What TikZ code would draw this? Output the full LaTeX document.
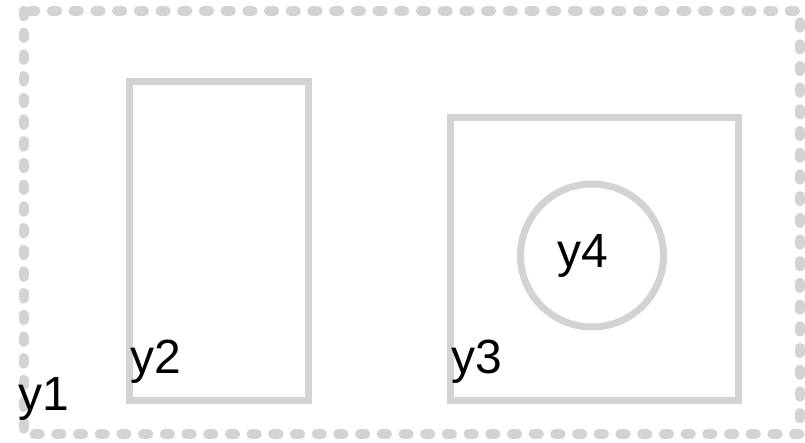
\documentclass[tikz,border=0pt]{standalone}
\usepackage{fontspec}
\setmainfont{Liberation Sans}
\usepackage{tikz}
\definecolor{lightgrey}{HTML}{D3D3D3}

\begin{document}
\begin{tikzpicture}[
    x=1pt, y=-1pt,
    outer/.style={draw=lightgrey, line width=10pt, line cap=round, dash pattern=on 5.3pt off 16.4pt},
    frame/.style={draw=lightgrey, line width=7pt},
    lbl/.style={font=\fontsize{48}{48}\selectfont, inner sep=0pt, anchor=base west}
]
\useasboundingbox (0,0) rectangle (805,443);

% outer dashed region
\draw[outer] (23.5,11) rectangle (800,434);
\node[lbl] (y1) at (18,410) {y1};

% left box
\draw[frame] (129.5,82) rectangle (308,400);
\node[lbl] (y2) at (130,373) {y2};

% right box with circle
\draw[frame] (450.5,117.5) rectangle (738.5,400);
\node[lbl] (y3) at (451,373) {y3};
\draw[frame] (592,255.5) circle (71.5);
\node[lbl] (y4) at (557,268) {y4};

\end{tikzpicture}
\end{document}
